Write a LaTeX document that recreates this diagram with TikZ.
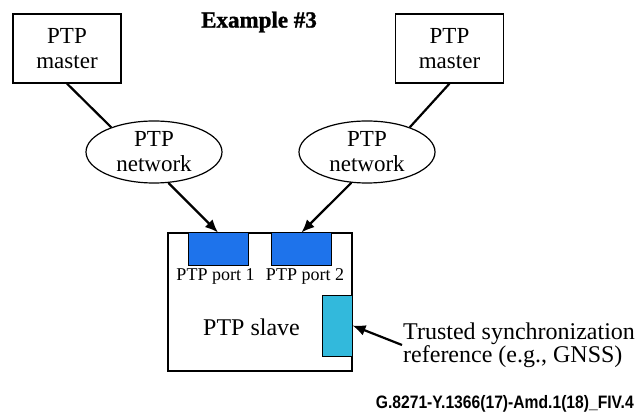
\documentclass[tikz,border=0pt]{standalone}
\usepackage{graphicx}
\usepackage{fontspec}
\setmainfont{Liberation Serif}
\newfontfamily\figsans{Liberation Sans}
\newfontfamily\heavyserif[FakeBold=1.2]{Liberation Serif Bold}
\usetikzlibrary{arrows.meta,shapes.geometric}
\definecolor{portblue}{RGB}{30,115,235}
\definecolor{refcyan}{RGB}{50,185,220}

\begin{document}
\begin{tikzpicture}[>={Latex[length=13pt,width=11pt]}, x=1pt, y=-1pt,
  box/.style={draw, line width=1.2pt, minimum width=108, minimum height=69, align=center, font=\fontsize{23}{25}\selectfont},
  net/.style={draw, ellipse, line width=1.2pt, minimum width=136, minimum height=62, inner xsep=0pt, inner ysep=-3pt, align=center, font=\fontsize{23}{25}\selectfont},
  port/.style={draw, line width=1pt, fill=portblue, minimum width=60, minimum height=32, inner sep=0pt},
  portlabel/.style={anchor=north, inner sep=0pt, font=\fontsize{18}{20}\selectfont},
  link/.style={line width=2.2pt}]
\useasboundingbox (0,0) rectangle (644,419);

\node[font=\heavyserif\fontsize{23}{26}\selectfont] (title) at (259,22) {Example \#3};

\node[box] (m1) at (67,48.5) {PTP\\master};
\node[box] (m2) at (449.5,48.5) {PTP\\master};

\node[net] (n1) at (154,152) {PTP\\network};
\node[net] (n2) at (367,152) {PTP\\network};

\node[draw, line width=1.2pt, minimum width=184, minimum height=138, inner sep=0pt] (slave) at (260,302) {};
\node[port] (p1) at (218,249) {};
\node[port] (p2) at (301.5,249) {};
\node[portlabel] (l1) at (215.5,268) {PTP port 1};
\node[portlabel] (l2) at (305,268) {PTP port 2};
\node[font=\fontsize{24}{26}\selectfont] (sl) at (251.5,327) {PTP slave};
\node[draw, line width=1pt, fill=refcyan, minimum width=30, minimum height=61, inner sep=0pt] (gnss) at (337,325.5) {};

\node[anchor=west, align=left, inner sep=1pt, font=\fontsize{24}{23}\selectfont] (ts) at (402,345) {Trusted synchronization\\reference (e.g., GNSS)};

\node[anchor=east, inner sep=0pt, font=\figsans\fontsize{18}{20}\selectfont\bfseries] (fig) at (634,404) {\scalebox{0.87}[1]{G.8271-Y.1366(17)-Amd.1(18)\_FIV.4}};

\draw[link] (m1.south) -- (n1.150);
\draw[link] (m2.south) -- (n2.30);
\draw[link,->] (n1.-65) -- (p1.north);
\draw[link,->] (n2.-117) -- (p2.north);
\draw[link,->] (ts.west) -- (gnss.east);

\end{tikzpicture}
\end{document}
